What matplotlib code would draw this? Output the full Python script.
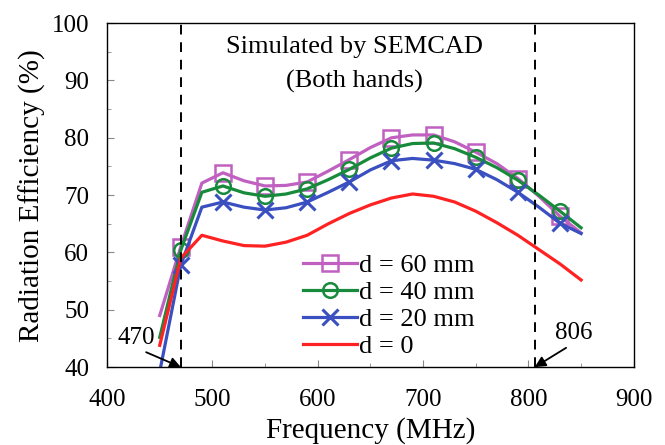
import matplotlib.pyplot as plt
from matplotlib.ticker import MultipleLocator

plt.rcParams['font.family'] = ['Liberation Serif', 'DejaVu Serif']

# frequency grid (MHz) of the simulated curves
freq = [450, 470, 490, 510, 530, 550, 570, 590, 610, 630, 650,
        670, 690, 710, 730, 750, 770, 790, 810, 830, 850]

eff_60 = [49.0, 61.0, 72.1, 73.9, 72.5, 71.6, 71.7, 72.3, 74.2, 76.2, 78.3,
          80.0, 80.5, 80.5, 79.3, 77.5, 75.5, 72.9, 69.8, 66.3, 63.4]
eff_40 = [45.2, 60.4, 70.5, 71.6, 70.4, 69.8, 70.2, 71.1, 72.7, 74.5, 76.5,
          78.2, 79.0, 79.1, 78.1, 76.6, 74.8, 72.6, 70.0, 67.2, 64.3]
eff_20 = [39.2, 57.8, 67.9, 68.8, 67.9, 67.4, 67.8, 68.8, 70.5, 72.3, 74.4,
          76.0, 76.4, 76.1, 75.5, 74.5, 72.7, 70.5, 67.9, 65.1, 63.3]
eff_0 = [43.8, 59.0, 63.0, 62.0, 61.2, 61.1, 61.8, 63.0, 65.0, 66.8, 68.3,
         69.5, 70.2, 69.8, 68.8, 67.2, 65.2, 63.0, 60.5, 58.0, 55.2]

band_lo = 470
band_hi = 806

# markers on every other grid point, 470 ... 830
marks = list(range(1, len(freq) - 1, 2))

fig = plt.figure(figsize=(6.65, 4.45), dpi=100)
ax = fig.add_axes([0.161, 0.175, 0.792, 0.773])

ax.plot(freq, eff_60, color='#c060c0', lw=2.3, marker='s', markersize=11,
        markerfacecolor='none', markeredgewidth=1.8, markevery=marks,
        label='d = 60 mm')
ax.plot(freq, eff_40, color='#188a3c', lw=2.3, marker='o', markersize=10.5,
        markerfacecolor='none', markeredgewidth=1.8, markevery=marks,
        label='d = 40 mm')
ax.plot(freq, eff_20, color='#3a4fc0', lw=2.3, marker='x', markersize=11,
        markeredgewidth=2.2, markevery=marks, label='d = 20 mm')
ax.plot(freq, eff_0, color='#ff2222', lw=2.3, label='d = 0')

ax.axvline(band_lo, color='black', ls=(0, (5, 4)), lw=1.4)
ax.axvline(band_hi, color='black', ls=(0, (5, 4)), lw=1.4)

# band edge labels with arrows down to the axis
ax.annotate(str(band_lo), xy=(band_lo, 40), xytext=(428, 45.1),
            ha='center', va='center', fontsize=18,
            arrowprops=dict(arrowstyle='-|>', color='black', lw=1.3,
                            mutation_scale=16, relpos=(0.55, 0),
                            shrinkA=1, shrinkB=0))
ax.annotate(str(band_hi), xy=(band_hi, 40), xytext=(843, 45.9),
            ha='center', va='center', fontsize=18,
            arrowprops=dict(arrowstyle='-|>', color='black', lw=1.3,
                            mutation_scale=16, relpos=(0.45, 0),
                            shrinkA=1, shrinkB=0))

ax.text(635, 95.8, 'Simulated by SEMCAD', ha='center', va='center', fontsize=19)
ax.text(635, 89.9, '(Both hands)', ha='center', va='center', fontsize=19)

ax.set_xlim(400, 900)
ax.set_ylim(40, 100)
ax.xaxis.set_major_locator(MultipleLocator(100))
ax.xaxis.set_minor_locator(MultipleLocator(50))
ax.yaxis.set_major_locator(MultipleLocator(10))
ax.yaxis.set_minor_locator(MultipleLocator(5))
ax.tick_params(which='both', direction='in', top=False, right=False,
               labelsize=18, color='#888888')
ax.tick_params(which='major', length=5)
ax.tick_params(axis='x', which='major', pad=16)
ax.tick_params(axis='y', which='major', pad=13)
ax.tick_params(which='minor', length=3)
for s in ax.spines.values():
    s.set_linewidth(1.0)

ax.set_xlabel('Frequency (MHz)', fontsize=21, labelpad=4)
ax.set_ylabel('Radiation Efficiency (%)', fontsize=21, labelpad=4)

ax.legend(loc='center left', bbox_to_anchor=(585.7, 50.7),
          bbox_transform=ax.transData, frameon=False, fontsize=19,
          borderpad=0, borderaxespad=0, handlelength=2.05,
          handletextpad=0.1, labelspacing=0.13)

fig.savefig('out.png', dpi=100)
